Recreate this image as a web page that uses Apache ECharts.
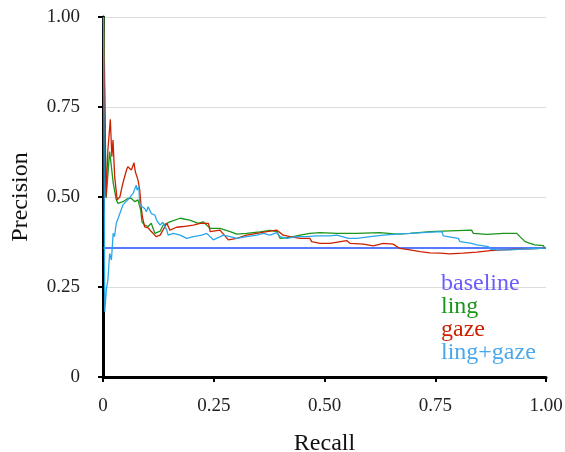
<!DOCTYPE html>
<html>
<head>
<meta charset="utf-8">
<script src="https://cdn.jsdelivr.net/npm/echarts@6/dist/echarts.min.js"></script>
<style>
  html, body { margin: 0; padding: 0; background: #fff; }
  #main { width: 565px; height: 452px; }
</style>
</head>
<body>
<div id="main"></div>
<script>
// tick labels
var xTicks = ['0', '0.25', '0.50', '0.75', '1.00'];
var yTicks = ['0', '0.25', '0.50', '0.75', '1.00'];

// baseline precision (share of positives)
var baselineRecall = [0, 1];
var baselinePrecision = [0.358, 0.358];

// ling
var lingRecall = [0.002, 0.0045, 0.007, 0.015, 0.019, 0.023, 0.030, 0.034, 0.045, 0.056, 0.064, 0.072, 0.079, 0.085, 0.088, 0.094, 0.102, 0.109, 0.117, 0.129, 0.136, 0.151, 0.174, 0.196, 0.215, 0.226, 0.242, 0.264, 0.287, 0.302, 0.324, 0.354, 0.377, 0.392, 0.400, 0.422, 0.445, 0.467, 0.490, 0.528, 0.573, 0.625, 0.629, 0.663, 0.693, 0.738, 0.783, 0.832, 0.836, 0.866, 0.904, 0.934, 0.941, 0.953, 0.964, 0.975, 0.994, 0.998];
var lingPrecision = [1.0, 1.0, 0.497, 0.626, 0.584, 0.539, 0.492, 0.482, 0.487, 0.496, 0.496, 0.487, 0.492, 0.464, 0.431, 0.422, 0.418, 0.427, 0.399, 0.405, 0.422, 0.431, 0.441, 0.436, 0.427, 0.431, 0.413, 0.413, 0.404, 0.397, 0.399, 0.403, 0.407, 0.404, 0.385, 0.388, 0.394, 0.399, 0.401, 0.399, 0.399, 0.401, 0.397, 0.397, 0.399, 0.404, 0.406, 0.408, 0.399, 0.396, 0.399, 0.399, 0.390, 0.376, 0.371, 0.367, 0.365, 0.357];

// gaze
var gazeRecall = [0.001, 0.0045, 0.0068, 0.011, 0.0165, 0.020, 0.0226, 0.0264, 0.032, 0.038, 0.045, 0.053, 0.056, 0.064, 0.070, 0.073, 0.079, 0.083, 0.086, 0.089, 0.094, 0.102, 0.109, 0.120, 0.129, 0.144, 0.151, 0.166, 0.181, 0.204, 0.219, 0.238, 0.242, 0.264, 0.283, 0.302, 0.324, 0.347, 0.370, 0.392, 0.407, 0.422, 0.445, 0.467, 0.471, 0.490, 0.512, 0.550, 0.558, 0.588, 0.610, 0.633, 0.655, 0.670, 0.693, 0.716, 0.738, 0.761, 0.783, 0.813, 0.844, 0.874, 0.904, 0.934, 0.964, 0.998];
var gazePrecision = [1.0, 1.0, 0.50, 0.63, 0.716, 0.612, 0.658, 0.556, 0.492, 0.50, 0.539, 0.575, 0.584, 0.575, 0.595, 0.570, 0.547, 0.519, 0.473, 0.445, 0.417, 0.414, 0.404, 0.390, 0.394, 0.427, 0.408, 0.416, 0.418, 0.422, 0.427, 0.427, 0.404, 0.408, 0.381, 0.385, 0.394, 0.399, 0.404, 0.408, 0.394, 0.390, 0.385, 0.385, 0.376, 0.371, 0.371, 0.379, 0.371, 0.369, 0.364, 0.371, 0.369, 0.357, 0.353, 0.348, 0.345, 0.344, 0.342, 0.344, 0.347, 0.351, 0.353, 0.355, 0.356, 0.358];

// ling+gaze
var bothRecall = [0.001, 0.004, 0.0075, 0.011, 0.015, 0.019, 0.023, 0.026, 0.030, 0.038, 0.045, 0.056, 0.068, 0.075, 0.077, 0.081, 0.083, 0.094, 0.098, 0.102, 0.109, 0.117, 0.121, 0.129, 0.135, 0.144, 0.147, 0.159, 0.174, 0.189, 0.204, 0.223, 0.234, 0.249, 0.272, 0.287, 0.302, 0.324, 0.347, 0.362, 0.377, 0.392, 0.400, 0.415, 0.437, 0.460, 0.482, 0.512, 0.528, 0.554, 0.573, 0.603, 0.633, 0.663, 0.693, 0.731, 0.765, 0.768, 0.772, 0.802, 0.806, 0.832, 0.844, 0.870, 0.874, 0.889, 0.919, 0.949, 0.979, 0.998];
var bothPrecision = [1.0, 0.181, 0.242, 0.27, 0.343, 0.325, 0.399, 0.390, 0.427, 0.454, 0.478, 0.492, 0.510, 0.533, 0.519, 0.528, 0.478, 0.468, 0.459, 0.473, 0.454, 0.450, 0.436, 0.422, 0.43, 0.408, 0.394, 0.399, 0.394, 0.385, 0.390, 0.394, 0.399, 0.381, 0.394, 0.390, 0.385, 0.390, 0.394, 0.399, 0.394, 0.401, 0.390, 0.385, 0.390, 0.390, 0.392, 0.392, 0.394, 0.385, 0.385, 0.390, 0.394, 0.397, 0.399, 0.402, 0.404, 0.392, 0.388, 0.385, 0.376, 0.371, 0.367, 0.362, 0.355, 0.353, 0.353, 0.355, 0.357, 0.358];

function pairs(xs, ys) {
  var out = [];
  for (var i = 0; i < xs.length; i++) out.push([xs[i], ys[i]]);
  return out;
}

var serif = '"Liberation Serif", "DejaVu Serif", serif';
var colors = { baseline: '#1f4fff', ling: '#1a961a', gaze: '#cc2200', both: '#2aa6ec' };

var option = {
  animation: false,
  textStyle: { fontFamily: serif },
  grid: { left: 103, right: 19, top: 17, bottom: 75, outerBoundsMode: 'none' },
  legend: {
    orient: 'vertical',
    left: 431,
    top: 267,
    icon: 'none',
    itemWidth: 0,
    itemHeight: 10,
    itemGap: -1,
    textStyle: { fontFamily: serif, fontSize: 24, lineHeight: 22 },
    selectedMode: false,
    data: [
      { name: 'baseline', textStyle: { color: '#6a5cff' } },
      { name: 'ling', textStyle: { color: '#1a961a' } },
      { name: 'gaze', textStyle: { color: '#cc2200' } },
      { name: 'ling+gaze', textStyle: { color: '#4aa8ea' } }
    ]
  },
  xAxis: {
    type: 'value', min: 0, max: 1, interval: 0.25,
    name: 'Recall', nameLocation: 'middle', nameGap: 55,
    nameTextStyle: { fontFamily: serif, fontSize: 24, color: '#111' },
    axisLine: { lineStyle: { color: '#000', width: 3 } },
    axisTick: { show: true, length: 5, lineStyle: { color: '#000', width: 2 } },
    axisLabel: {
      margin: 20, fontFamily: serif, fontSize: 19, color: '#222',
      formatter: function (v) { return xTicks[Math.round(v / 0.25)]; }
    },
    splitLine: { show: false }
  },
  yAxis: {
    type: 'value', min: 0, max: 1, interval: 0.25,
    name: 'Precision', nameLocation: 'middle', nameGap: 70, nameRotate: 90,
    nameTextStyle: { fontFamily: serif, fontSize: 24, color: '#111' },
    axisLine: { show: true, lineStyle: { color: '#000', width: 3 } },
    axisTick: { show: true, length: 5, lineStyle: { color: '#000', width: 2 } },
    axisLabel: {
      margin: 23, fontFamily: serif, fontSize: 19, color: '#222',
      formatter: function (v) { return yTicks[Math.round(v / 0.25)]; }
    },
    splitLine: { show: true, lineStyle: { color: '#dcdcdc', width: 1 } }
  },
  series: [
    { name: 'baseline', type: 'line', showSymbol: false, color: colors.baseline,
      lineStyle: { width: 1.5 }, data: pairs(baselineRecall, baselinePrecision) },
    { name: 'ling', type: 'line', showSymbol: false, color: colors.ling,
      lineStyle: { width: 1.3 }, data: pairs(lingRecall, lingPrecision) },
    { name: 'gaze', type: 'line', showSymbol: false, color: colors.gaze,
      lineStyle: { width: 1.3 }, data: pairs(gazeRecall, gazePrecision) },
    { name: 'ling+gaze', type: 'line', showSymbol: false, color: colors.both,
      lineStyle: { width: 1.3 }, data: pairs(bothRecall, bothPrecision) }
  ]
};

echarts.init(document.getElementById('main')).setOption(option);
</script>
</body>
</html>
